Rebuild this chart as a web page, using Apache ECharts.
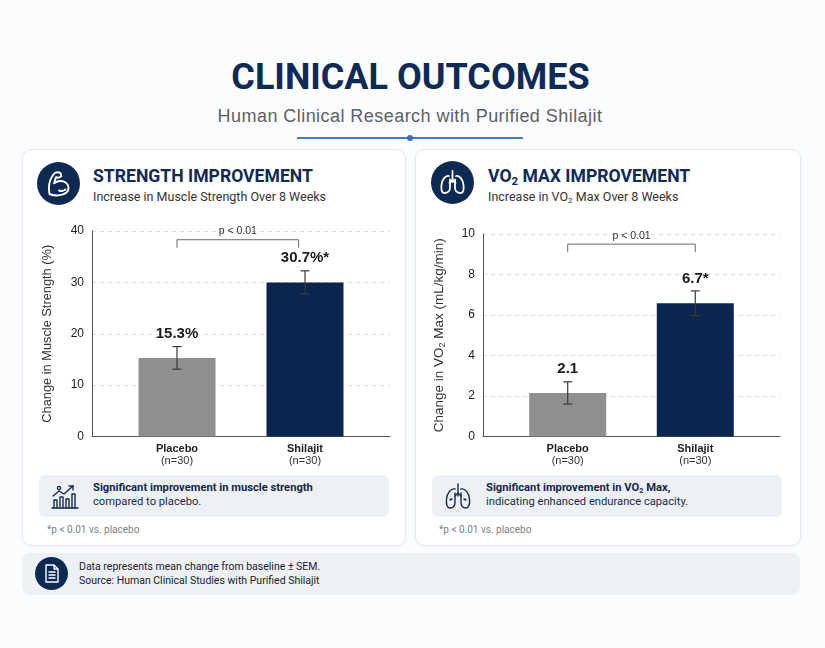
<!DOCTYPE html>
<html>
<head>
<meta charset="utf-8">
<title>Clinical Outcomes</title>
<script src="https://cdn.jsdelivr.net/npm/echarts@6.0.0/dist/echarts.min.js"></script>
<style>
    body { margin: 0; background: #fbfcfd; font-family: Roboto, "Liberation Sans", Arial, sans-serif; }
    #page { position: relative; width: 825px; height: 648px; overflow: hidden; }
    .abs { position: absolute; }
    .title { left: 0; width: 821px; top: 56px; text-align: center; font-size: 36px; line-height: 42px; font-weight: 700; color: #0e2a55; }
    .subtitle { left: 0; width: 820px; top: 105px; text-align: center; font-family: "Liberation Sans", Arial, sans-serif; font-size: 18px; letter-spacing: 0.45px; line-height: 22px; color: #5b6068; }
    .rule { left: 297px; top: 137px; width: 226px; height: 2px; background: #4a79b8; }
    .dot { left: 407px; top: 135px; width: 6px; height: 6px; border-radius: 50%; background: #3e6fb0; }
    .card { top: 149px; height: 395px; background: #fff; border: 1px solid #e4e8ee; border-radius: 9px; box-shadow: 0 1px 3px rgba(20,40,80,0.04); }
    .badge { width: 43px; height: 43px; border-radius: 50%; background: #0f2a52; }
    .badge svg { display: block; }
    .head { font-size: 17.6px; line-height: 20px; font-weight: 700; color: #0f2a55; white-space: nowrap; }
    .sub { font-size: 12.5px; line-height: 16px; color: #333; white-space: nowrap; }
    sub { font-size: 0.65em; line-height: 0; vertical-align: -0.25em; }
    .callout { top: 475px; width: 350px; height: 42px; background: #edf1f6; border-radius: 6px; }
    .callout .txt { position: absolute; top: 6px; font-size: 11.2px; line-height: 14px; color: #1d2b45; white-space: nowrap; }
    .callout b { color: #14264b; }
    .foot { top: 523px; font-size: 10px; line-height: 14px; color: #7a7f86; }
    .note { left: 22px; top: 553px; width: 778px; height: 42px; background: #edf1f6; border-radius: 8px; }
    .note .txt { position: absolute; left: 57px; top: 7px; font-size: 10.5px; line-height: 14px; color: #222; }
    #chart { position: absolute; left: 0; top: 0; width: 825px; height: 648px; z-index: 2; }
</style>
</head>
<body>
<div id="page">
    <div class="abs title">CLINICAL OUTCOMES</div>
    <div class="abs subtitle">Human Clinical Research with Purified Shilajit</div>
    <div class="abs rule"></div>
    <div class="abs dot"></div>

    <!-- left card -->
    <div class="abs card" style="left:22px;width:382px;"></div>
    <div class="abs badge" style="left:37px;top:162px;">
        <svg width="43" height="43" viewBox="0 0 43 43" fill="none" stroke="#fff" stroke-width="1.9" stroke-linejoin="round" stroke-linecap="round">
            <path d="M12.5 32c-1.2-6-.3-13.5 3.5-19 1.8-2.6 4.8-3.4 7.5-2l.8 3.2-2.6 1.6-2.8-.5-1.8 6c3-2.6 8-3.2 11.5-.8 3.4 2.3 4 7 1 10-4 3.6-12 3.6-17.1 1.5z"/>
            <path d="M22 28.5c2.2.9 4.6.6 6.4-1"/>
        </svg>
    </div>
    <div class="abs head" style="left:93px;top:166px;">STRENGTH IMPROVEMENT</div>
    <div class="abs sub" style="left:93px;top:189px;">Increase in Muscle Strength Over 8 Weeks</div>
    <div class="abs callout" style="left:39px;">
        <svg style="position:absolute;left:10px;top:6px;" width="32" height="30" viewBox="0 0 32 30" fill="none" stroke="#16284d" stroke-width="1.4" stroke-linecap="round" stroke-linejoin="round">
            <path d="M3 27h26"/>
            <path d="M5 27v-8h3v8M11 27v-11h3v11M17 27v-9h3v9M23 27v-14h3v14"/>
            <path d="M4 15l6-5 5 3 9-8"/>
            <path d="M20 5h4v4"/>
            <circle cx="10" cy="7" r="1.6"/>
        </svg>
        <div class="txt" style="left:54px;"><b>Significant improvement in muscle strength</b><br>compared to placebo.</div>
    </div>
    <div class="abs foot" style="left:47px;">*p &lt; 0.01 vs. placebo</div>

    <!-- right card -->
    <div class="abs card" style="left:415px;width:384px;"></div>
    <div class="abs badge" style="left:431px;top:161px;">
        <svg width="43" height="43" viewBox="0 0 43 43" fill="none" stroke="#fff" stroke-width="1.8" stroke-linejoin="round" stroke-linecap="round">
            <path d="M21.5 10v11"/>
            <path d="M21.5 19l-3 3M21.5 19l3 3"/>
            <path d="M18 15c-3.5-1-7 3.5-7.5 9-.5 4.5 0 8 3 8 3.5 0 5.5-2.5 5.5-5.5v-8"/>
            <path d="M25 15c3.5-1 7 3.5 7.5 9 .5 4.5 0 8-3 8-3.5 0-5.5-2.5-5.5-5.5v-8"/>
        </svg>
    </div>
    <div class="abs head" style="left:488px;top:166px;">VO<sub>2</sub> MAX IMPROVEMENT</div>
    <div class="abs sub" style="left:488px;top:189px;">Increase in VO<sub>2</sub> Max Over 8 Weeks</div>
    <div class="abs callout" style="left:432px;">
        <svg style="position:absolute;left:11px;top:5px;" width="30" height="32" viewBox="0 0 30 32" fill="none" stroke="#16284d" stroke-width="1.4" stroke-linecap="round" stroke-linejoin="round">
            <path d="M15 4v12"/>
            <path d="M15 13l-3 3M15 13l3 3"/>
            <path d="M12 9c-4-1-8 4-8.5 10-.5 5 .5 9 3.5 9 3.5 0 5-3 5-6v-9"/>
            <path d="M18 9c4-1 8 4 8.5 10 .5 5-.5 9-3.5 9-3.5 0-5-3-5-6v-9"/>
            <path d="M7 20l2-1M23 20l-2-1"/>
        </svg>
        <div class="txt" style="left:54px;"><b>Significant improvement in VO<sub>2</sub> Max,</b><br>indicating enhanced endurance capacity.</div>
    </div>
    <div class="abs foot" style="left:439px;">*p &lt; 0.01 vs. placebo</div>

    <!-- bottom note -->
    <div class="abs note">
        <div class="abs badge" style="left:13px;top:4px;width:33px;height:33px;">
            <svg width="33" height="33" viewBox="0 0 33 33" fill="none" stroke="#fff" stroke-width="1.4" stroke-linejoin="round">
                <path d="M11 8h8l4 4v13H11z"/>
                <path d="M19 8v4h4"/>
                <path d="M13.5 15h7M13.5 18h7M13.5 21h7"/>
            </svg>
        </div>
        <div class="txt">Data represents mean change from baseline ± SEM.<br>Source: Human Clinical Studies with Purified Shilajit</div>
    </div>

    <div id="chart"></div>
</div>

<script>
// groups
var categories = ['Placebo', 'Shilajit'];
var sampleSizes = ['(n=30)', '(n=30)'];
var barColors = ['#8f8f8f', '#0b2550'];

// muscle strength, % change (mean +/- SEM)
var strengthValues = [15.3, 30.0];
var strengthErrors = [2.2, 2.25];
var strengthLabels = ['15.3%', '30.7%*'];
var strengthTicks = [0, 10, 20, 30, 40];
var strengthBracket = [0, 0.95, 38.3];

// VO2 max, mL/kg/min (mean +/- SEM)
var vo2Values = [2.15, 6.58];
var vo2Errors = [0.55, 0.61];
var vo2Labels = ['2.1', '6.7*'];
var vo2Ticks = [0, 2, 4, 6, 8, 10];
var vo2Bracket = [0, 1, 9.5];

var chartFont = '"Liberation Sans", Arial, sans-serif';

function barData(values) {
    return values.map(function (v, i) {
        return { value: [i, v], itemStyle: { color: barColors[i] } };
    });
}

function errorData(values, errors) {
    return values.map(function (v, i) {
        return [i, v - errors[i], v + errors[i]];
    });
}

//误差线 + 数值标签
function errorRender(labels) {
    return function (params, api) {
        var x = api.value(0);
        var lo = api.coord([x, api.value(1)]);
        var hi = api.coord([x, api.value(2)]);
        var cap = 4.5;
        var style = { stroke: '#3a3a3a', lineWidth: 1.2 };
        return {
            type: 'group',
            children: [
                { type: 'line', shape: { x1: lo[0], y1: lo[1], x2: hi[0], y2: hi[1] }, style: style },
                { type: 'line', shape: { x1: lo[0] - cap, y1: lo[1], x2: lo[0] + cap, y2: lo[1] }, style: style },
                { type: 'line', shape: { x1: hi[0] - cap, y1: hi[1], x2: hi[0] + cap, y2: hi[1] }, style: style },
                {
                    type: 'text', x: hi[0], y: hi[1] - 5,
                    style: {
                        text: labels[params.dataIndex],
                        font: 'bold 15px ' + chartFont,
                        fill: '#1c1c1c',
                        align: 'center', verticalAlign: 'bottom',
                        textAlign: 'center', textVerticalAlign: 'bottom'
                    }
                }
            ]
        };
    };
}

//显著性括号
function bracketRender(params, api) {
    var a = api.coord([api.value(0), api.value(2)]);
    var b = api.coord([api.value(1), api.value(2)]);
    var style = { stroke: '#6b6b6b', lineWidth: 1, fill: null };
    return {
        type: 'group',
        children: [
            { type: 'polyline', shape: { points: [[a[0], a[1] + 8], [a[0], a[1]], [b[0], b[1]], [b[0], b[1] + 8]] }, style: style },
            {
                type: 'text', x: (a[0] + b[0]) / 2, y: a[1] - 3,
                style: {
                    text: 'p < 0.01', font: '10.5px ' + chartFont, fill: '#333',
                    align: 'center', verticalAlign: 'bottom',
                    textAlign: 'center', textVerticalAlign: 'bottom'
                }
            }
        ]
    };
}

function xAxisFor(gridIndex) {
    return {
        type: 'value', gridIndex: gridIndex,
        min: -0.664, max: 1.664,
        splitLine: { show: false },
        axisTick: { show: false },
        axisLine: { show: true, onZero: false, lineStyle: { color: '#555', width: 1 } },
        axisLabel: {
            customValues: [0, 1],
            margin: 6,
            formatter: function (v) {
                var i = Math.round(v);
                return '{b|' + categories[i] + '}\n{n|' + sampleSizes[i] + '}';
            },
            rich: {
                b: { fontFamily: chartFont, fontSize: 11, fontWeight: 'bold', color: '#222', lineHeight: 12 },
                n: { fontFamily: chartFont, fontSize: 11, color: '#333', lineHeight: 12 }
            }
        }
    };
}

function yAxisFor(gridIndex, ticks, name, gap, nameSize) {
    return {
        type: 'value', gridIndex: gridIndex,
        min: ticks[0], max: ticks[ticks.length - 1], interval: ticks[1] - ticks[0],
        name: name, nameLocation: 'middle', nameGap: gap,
        nameTextStyle: {
            fontFamily: chartFont, fontSize: nameSize, color: '#333',
            rich: { s: { fontFamily: chartFont, fontSize: 9, color: '#333', verticalAlign: 'bottom', lineHeight: 15 } }
        },
        axisLine: { show: true, onZero: false, lineStyle: { color: '#555', width: 1 } },
        axisTick: { show: false },
        axisLabel: { fontFamily: chartFont, fontSize: 12, color: '#222', margin: 8 },
        splitLine: { show: true, lineStyle: { color: '#dedede', type: [4, 4] } }
    };
}

var chart = echarts.init(document.getElementById('chart'));
var option = {
    animation: false,
    grid: [
        { left: 92, top: 231, width: 298, height: 205.5 },
        { left: 483, top: 234, width: 297, height: 202.5 }
    ],
    xAxis: [xAxisFor(0), xAxisFor(1)],
    yAxis: [
        yAxisFor(0, strengthTicks, 'Change in Muscle Strength (%)', 38, 12.8),
        yAxisFor(1, vo2Ticks, 'Change in VO{s|2} Max (mL/kg/min)', 36, 13.5)
    ],
    series: [
        { type: 'bar', xAxisIndex: 0, yAxisIndex: 0, barWidth: 77, silent: true, data: barData(strengthValues) },
        { type: 'custom', xAxisIndex: 0, yAxisIndex: 0, silent: true, z: 5, renderItem: errorRender(strengthLabels), data: errorData(strengthValues, strengthErrors) },
        { type: 'custom', xAxisIndex: 0, yAxisIndex: 0, silent: true, renderItem: bracketRender, data: [strengthBracket] },
        { type: 'bar', xAxisIndex: 1, yAxisIndex: 1, barWidth: 77, silent: true, data: barData(vo2Values) },
        { type: 'custom', xAxisIndex: 1, yAxisIndex: 1, silent: true, z: 5, renderItem: errorRender(vo2Labels), data: errorData(vo2Values, vo2Errors) },
        { type: 'custom', xAxisIndex: 1, yAxisIndex: 1, silent: true, renderItem: bracketRender, data: [vo2Bracket] }
    ]
};
chart.setOption(option);
</script>
</body>
</html>
